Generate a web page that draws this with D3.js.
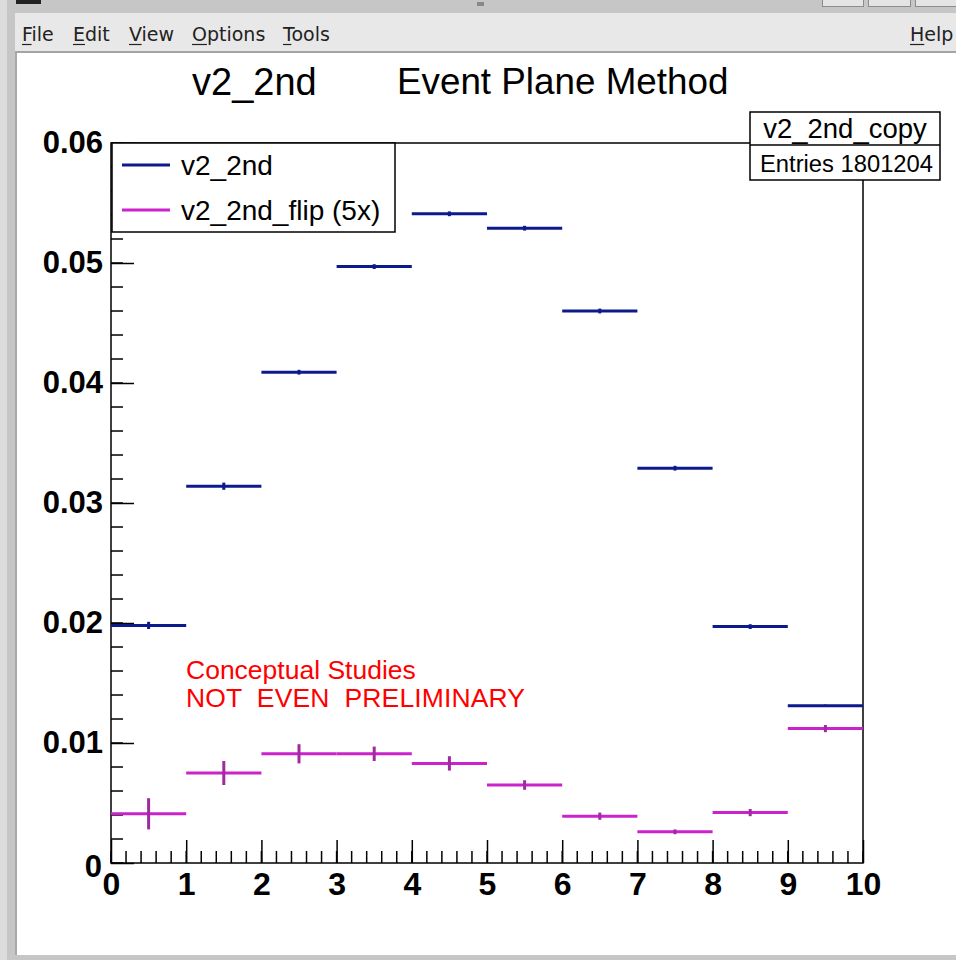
<!DOCTYPE html>
<html>
<head>
<meta charset="utf-8">
<script src="https://cdn.jsdelivr.net/npm/d3@7"></script>
<style>
  html, body { margin: 0; padding: 0; background: #ffffff; }
  svg { display: block; }
</style>
</head>
<body>
<script>
// Bin edges of the histogram (x axis) and the two series, one value per bin
const binEdges = [0, 1, 2, 3, 4, 5, 6, 7, 8, 9, 10];
const v2Values = [0.0198, 0.0314, 0.0409, 0.0497, 0.0541, 0.0529, 0.0460, 0.0329, 0.0197, 0.0131];
const v2Errors = [0.0003, 0.0003, 0.0002, 0.0002, 0.0002, 0.0002, 0.0002, 0.0002, 0.0002, 0.0001];
const flipValues = [0.0041, 0.0075, 0.0091, 0.0091, 0.0083, 0.0065, 0.0039, 0.0026, 0.0042, 0.0112];
const flipErrors = [0.0013, 0.0010, 0.0008, 0.0006, 0.0006, 0.0004, 0.0003, 0.0002, 0.0003, 0.0003];

const xTickValues = [0, 1, 2, 3, 4, 5, 6, 7, 8, 9, 10];
const yTickValues = [0, 0.01, 0.02, 0.03, 0.04, 0.05, 0.06];
const menuItems = ["File", "Edit", "View", "Options", "Tools"];
const legendLabels = ["v2_2nd", "v2_2nd_flip (5x)"];

const W = 956, H = 960;
const svg = d3.select("body").append("svg").attr("width", W).attr("height", H);

// ---------- window frame and menu bar ----------
svg.append("rect").attr("x", 0).attr("y", 0).attr("width", W).attr("height", H).attr("fill", "#c6c6c6");
svg.append("rect").attr("x", 0).attr("y", 0).attr("width", 7).attr("height", H).attr("fill", "#dcdcdc");
svg.append("rect").attr("x", 16).attr("y", 0).attr("width", 25).attr("height", 4).attr("fill", "#222");
svg.append("rect").attr("x", 477).attr("y", 2).attr("width", 7).attr("height", 4).attr("fill", "#888");
[[822, 41], [868, 42], [915, 45]].forEach(([bx, bw]) => {
  svg.append("rect").attr("x", bx + 0.5).attr("y", -2).attr("width", bw).attr("height", 8.5)
    .attr("fill", "#e4e4e4").attr("stroke", "#8c8c8c");
});
svg.append("rect").attr("x", 15).attr("y", 13).attr("width", W - 15).attr("height", 38).attr("fill", "#e8e8e8");
svg.append("rect").attr("x", 15).attr("y", 51).attr("width", W - 15).attr("height", 2).attr("fill", "#a4a4a4");
svg.append("rect").attr("x", 15).attr("y", 53).attr("width", 2).attr("height", 902).attr("fill", "#a8a8a8");
svg.append("rect").attr("x", 17).attr("y", 53).attr("width", W - 17).attr("height", 902).attr("fill", "#ffffff");

const menuX = [22, 73, 129, 192, 283];
const menuFont = "'DejaVu Sans', sans-serif";
function menuEntry(label, mx) {
  const t = svg.append("text").attr("x", mx).attr("y", 41)
    .attr("font-family", menuFont).attr("font-size", 19).attr("fill", "#222").text(label);
  const w0 = t.node().getSubStringLength(0, 1);
  svg.append("line").attr("x1", mx).attr("x2", mx + w0)
    .attr("y1", 44.5).attr("y2", 44.5).attr("stroke", "#222").attr("stroke-width", 1.2);
}
menuItems.forEach((m, i) => menuEntry(m, menuX[i]));
menuEntry("Help", 910);

// ---------- plot area ----------
const plotLeft = 111, plotRight = 863, plotTop = 143, plotBottom = 863;
const x = d3.scaleLinear().domain([0, 10]).range([plotLeft, plotRight]);
const y = d3.scaleLinear().domain([0, 0.06]).range([plotBottom, plotTop]);

const sansFont = "'Liberation Sans', Arial, Helvetica, sans-serif";
const blue = "#0c1a8e";
const magenta = "#cc22cc";
const magentaErr = "#a02aa0";

// minor ticks
const g = svg.append("g");
const yMinor = d3.range(0, 0.0601, 0.002);
g.selectAll("line.ymin").data(yMinor).join("line")
  .attr("x1", plotLeft).attr("x2", plotLeft + 12)
  .attr("y1", d => y(d)).attr("y2", d => y(d))
  .attr("stroke", "#000").attr("stroke-width", 1.5);
const xMinor = d3.range(0, 10.01, 0.2);
g.selectAll("line.xmin").data(xMinor).join("line")
  .attr("x1", d => x(d)).attr("x2", d => x(d))
  .attr("y1", plotBottom).attr("y2", plotBottom - 12)
  .attr("stroke", "#000").attr("stroke-width", 1.5);

// major ticks and labels
const yAxis = d3.axisLeft(y).tickValues(yTickValues)
  .tickFormat(d => d === 0 ? "0" : d3.format(".2f")(d))
  .tickSizeInner(-23).tickSizeOuter(0).tickPadding(8);
const yg = svg.append("g").attr("transform", `translate(${plotLeft},0)`).call(yAxis);
yg.select(".domain").remove();
yg.selectAll(".tick line").attr("stroke", "#000").attr("stroke-width", 1.5);
yg.selectAll(".tick text").attr("font-family", sansFont).attr("font-weight", "bold")
  .attr("font-size", 31).attr("fill", "#000");
yg.selectAll(".tick text").filter(d => d === 0).attr("dy", "0.45em").attr("x", -9);

const xAxis = d3.axisBottom(x).tickValues(xTickValues).tickFormat(d3.format("d"))
  .tickSizeInner(-23).tickSizeOuter(0).tickPadding(9);
const xg = svg.append("g").attr("transform", `translate(0,${plotBottom})`).call(xAxis);
xg.select(".domain").remove();
xg.selectAll(".tick line").attr("stroke", "#000").attr("stroke-width", 1.5);
xg.selectAll(".tick text").attr("font-family", sansFont).attr("font-weight", "bold")
  .attr("font-size", 32).attr("fill", "#000");

// frame
svg.append("rect").attr("x", plotLeft).attr("y", plotTop)
  .attr("width", plotRight - plotLeft).attr("height", plotBottom - plotTop)
  .attr("fill", "none").attr("stroke", "#000").attr("stroke-width", 1.5);

// histogram bins: horizontal bar across the bin plus a vertical error bar
const bins = d3.range(v2Values.length).map(i => ({ x0: binEdges[i], x1: binEdges[i + 1] }));

function drawSeries(values, errors, color, errColor) {
  const sg = svg.append("g");
  sg.selectAll("line.h").data(values).join("line")
    .attr("x1", (d, i) => x(bins[i].x0)).attr("x2", (d, i) => x(bins[i].x1))
    .attr("y1", d => y(d)).attr("y2", d => y(d))
    .attr("stroke", color).attr("stroke-width", 3);
  sg.selectAll("line.e").data(values).join("line")
    .attr("x1", (d, i) => x((bins[i].x0 + bins[i].x1) / 2))
    .attr("x2", (d, i) => x((bins[i].x0 + bins[i].x1) / 2))
    .attr("y1", (d, i) => y(d - errors[i])).attr("y2", (d, i) => y(d + errors[i]))
    .attr("stroke", errColor).attr("stroke-width", 3);
}
drawSeries(flipValues, flipErrors, magenta, magentaErr);
drawSeries(v2Values, v2Errors, blue, blue);

// ---------- title ----------
svg.append("text").attr("x", 192).attr("y", 95).attr("font-family", sansFont)
  .attr("font-size", 38).attr("fill", "#000").text("v2_2nd");
svg.append("text").attr("x", 397).attr("y", 94).attr("font-family", sansFont)
  .attr("font-size", 36.8).attr("fill", "#000").text("Event Plane Method");

// ---------- legend ----------
const lg = svg.append("g");
lg.append("rect").attr("x", 112).attr("y", 143).attr("width", 283).attr("height", 89)
  .attr("fill", "#fff").attr("stroke", "#000").attr("stroke-width", 1.5);
const legendColors = [blue, magenta];
legendLabels.forEach((lab, i) => {
  const ly = 165 + i * 45;
  lg.append("line").attr("x1", 122).attr("x2", 170).attr("y1", ly).attr("y2", ly)
    .attr("stroke", legendColors[i]).attr("stroke-width", 3);
  lg.append("text").attr("x", 181).attr("y", ly + 10).attr("font-family", sansFont)
    .attr("font-size", 28).attr("fill", "#000").text(lab);
});

// ---------- statistics box ----------
const sb = svg.append("g");
sb.append("rect").attr("x", 750).attr("y", 112).attr("width", 190).attr("height", 68)
  .attr("fill", "#fff").attr("stroke", "#000").attr("stroke-width", 1.5);
sb.append("line").attr("x1", 750).attr("x2", 940).attr("y1", 145).attr("y2", 145)
  .attr("stroke", "#000").attr("stroke-width", 1.5);
sb.append("text").attr("x", 845).attr("y", 138).attr("text-anchor", "middle")
  .attr("font-family", sansFont).attr("font-size", 27.5).attr("fill", "#000").text("v2_2nd_copy");
sb.append("text").attr("x", 760).attr("y", 172)
  .attr("font-family", sansFont).attr("font-size", 23).attr("fill", "#000")
  .attr("textLength", 173).attr("lengthAdjust", "spacingAndGlyphs").text("Entries 1801204");

// ---------- annotation ----------
svg.append("text").attr("x", 186).attr("y", 679).attr("font-family", sansFont)
  .attr("font-size", 26.5).attr("fill", "#ff0000").text("Conceptual Studies");
svg.append("text").attr("x", 186).attr("y", 707).attr("font-family", sansFont)
  .attr("font-size", 26.5).attr("fill", "#ff0000")
  .attr("textLength", 339).attr("lengthAdjust", "spacing")
  .style("white-space", "pre").text("NOT  EVEN  PRELIMINARY");
</script>
</body>
</html>
